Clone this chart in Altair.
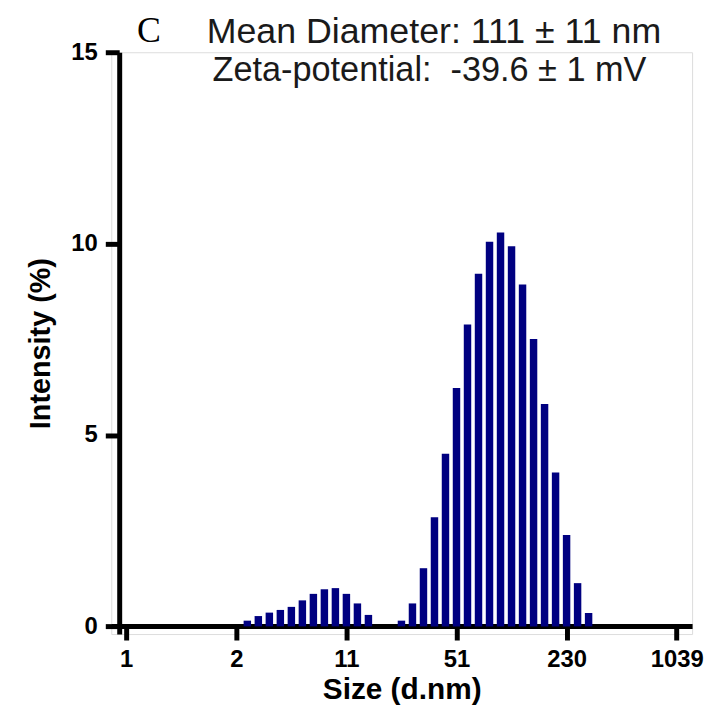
import altair as alt
import pandas as pd

# bin index (size class) and intensity (%)
bin_index = list(range(11, 23)) + list(range(25, 43))
intensity = [0.15, 0.27, 0.36, 0.43, 0.51, 0.68, 0.85, 0.97, 1.00, 0.85, 0.60, 0.30,
             0.15, 0.60, 1.52, 2.85, 4.51, 6.23, 7.89, 9.21, 10.05, 10.29, 9.93,
             8.93, 7.51, 5.81, 4.02, 2.39, 1.13, 0.35]
tick_index = [0, 10, 20, 30, 40, 50]
tick_labels = ["1", "2", "11", "51", "230", "1039"]
y_ticks = [0, 5, 10, 15]

df = pd.DataFrame({"idx": bin_index, "val": intensity})

label_expr = "[" + ",".join("'%s'" % t for t in tick_labels) + "][round(datum.value/10)]"

FONT = "Liberation Sans"

bars = alt.Chart(df).mark_bar(color="#000080", size=7.5).encode(
    x=alt.X("idx:Q",
            scale=alt.Scale(domain=[-1.36, 51.4], nice=False, zero=False, padding=0),
            axis=alt.Axis(values=tick_index, labelExpr=label_expr, title="Size (d.nm)",
                          offset=-8, grid=False, domainWidth=5, domainColor="black",
                          tickWidth=5, tickColor="black", tickSize=14,
                          labelFont=FONT, labelFontWeight="bold", labelFontSize=24,
                          labelColor="black", labelPadding=8, labelFlush=False,
                          titleFont=FONT, titleFontWeight="bold", titleFontSize=30,
                          titleColor="black", titlePadding=3)),
    y=alt.Y("val:Q",
            scale=alt.Scale(domain=[-0.2, 15], nice=False, zero=False),
            axis=alt.Axis(values=y_ticks, title="Intensity (%)",
                          offset=-8, grid=False, domainWidth=5, domainColor="black",
                          tickWidth=5, tickColor="black", tickSize=14,
                          labelFont=FONT, labelFontWeight="bold", labelFontSize=24,
                          labelColor="black", labelPadding=8, labelFlush=False,
                          titleFont=FONT, titleFontWeight="bold", titleFontSize=29,
                          titleColor="black", titlePadding=16)),
    y2=alt.datum(0),
)

ann = pd.DataFrame({
    "t": ["Mean Diameter: 111 \u00b1 11 nm", "Zeta-potential:\u00a0 -39.6 \u00b1 1 mV"],
    "px": [325, 320.5],
    "py": [-9, 29],
    "fs": [36, 34.5],
})
texts = alt.Chart(ann).mark_text(font=FONT, color="#1a1a1a",
                                 align="center", baseline="alphabetic").encode(
    text="t:N", x=alt.X("px:Q", scale=None), y=alt.Y("py:Q", scale=None),
    size=alt.Size("fs:Q", scale=None, legend=None))

letter = pd.DataFrame({"t": ["C"], "px": [38], "py": [-10]})
ctext = alt.Chart(letter).mark_text(font="Liberation Serif", fontSize=36, color="black",
                                    align="center", baseline="alphabetic").encode(
    text="t:N", x=alt.X("px:Q", scale=None), y=alt.Y("py:Q", scale=None))

chart = alt.layer(bars, texts, ctext).properties(
    width=585, height=586,
    padding={"left": 104, "top": 42, "right": 12, "bottom": 82},
    autosize=alt.AutoSizeParams(type="none"),
).configure_view(stroke=None).configure(background="white")

chart.save("out.html", embed_options={"renderer": "svg", "actions": False})
